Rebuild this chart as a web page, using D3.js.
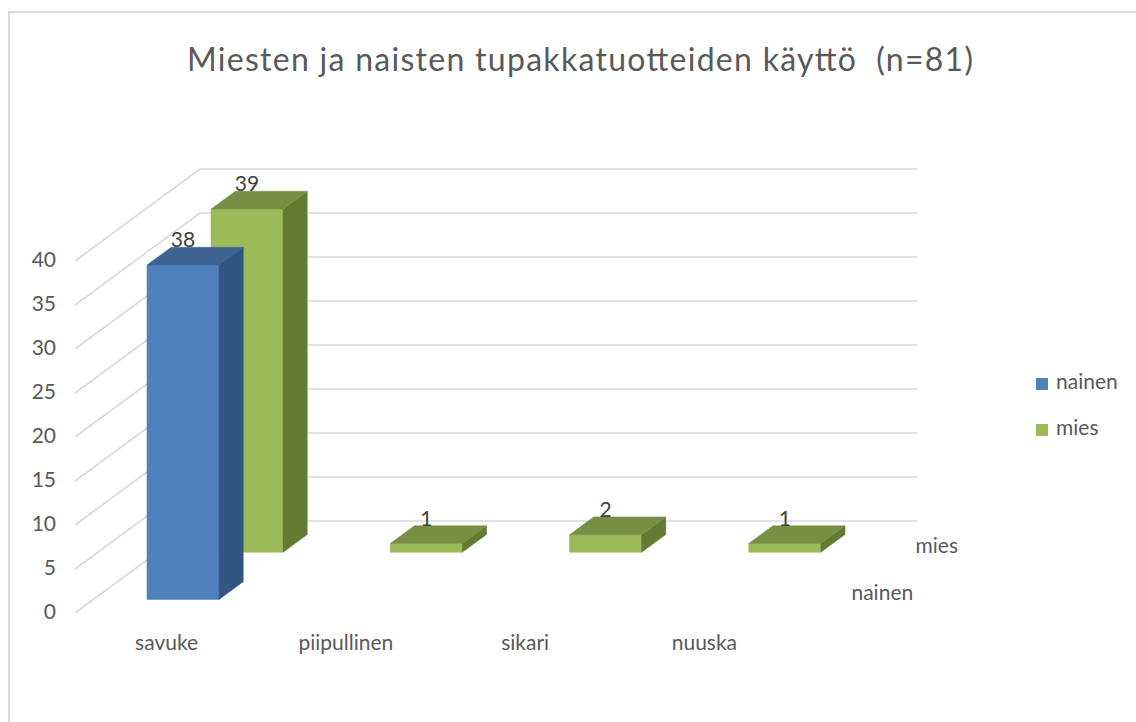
<!DOCTYPE html>
<html><head><meta charset="utf-8">
<script src="https://cdn.jsdelivr.net/npm/d3@7"></script>
<style>html,body{margin:0;padding:0;background:#fff;}svg{display:block;}text{white-space:pre;}</style>
</head><body>
<svg id="c" width="1136" height="722"></svg>
<script>
const categories = ["savuke", "piipullinen", "sikari", "nuuska"];
const seriesNames = ["nainen", "mies"];
const nainen = [38, null, null, null];
const mies = [39, 1, 2, 1];
const yTicks = [0, 5, 10, 15, 20, 25, 30, 35, 40];
const title = "Miesten ja naisten tupakkatuotteiden käyttö  (n=81)";

const colors = {
  nainen: {front: "#4F81BD", top: "#3C6391", side: "#325581"},
  mies:   {front: "#9BBB59", top: "#778F42", side: "#637A33"}
};
const font = "Lato, 'Open Sans', sans-serif";
const txt = "#595959";
const fs = 21;

const svg = d3.select("#c");
svg.append("rect").attr("x", 9).attr("y", 12).attr("width", 1140).attr("height", 720)
  .attr("fill", "#fff").attr("stroke", "#d9d9d9").attr("stroke-width", 2);

// 3D oblique geometry
const depthTotal = 155;
const kx = 125 / 155, ky = 92 / 155;
const x = d3.scaleBand().domain(categories).range([75, 792]).paddingInner(0.598).paddingOuter(0.299);
const y = d3.scaleLinear().domain([0, 40]).range([613, 261]);
const z = d3.scaleBand().domain(seriesNames).range([0, depthTotal]).paddingInner(0.622).paddingOuter(0.287);
const P = (px, v, d) => [px + d * kx, y(v) - d * ky];

const g = svg.append("g");
yTicks.forEach(t => {
  const a = P(75, t, 0), b = P(75, t, depthTotal);
  g.append("line").attr("x1", a[0]).attr("y1", a[1]).attr("x2", b[0]).attr("y2", b[1])
    .attr("stroke", "#d9d9d9").attr("stroke-width", 1.7);
  const c = P(792, t, depthTotal);
  g.append("line").attr("x1", b[0]).attr("y1", b[1]).attr("x2", c[0]).attr("y2", c[1])
    .attr("stroke", "#d9d9d9").attr("stroke-width", 1.7);
  g.append("text").attr("x", 56).attr("y", y(t) + 1).attr("text-anchor", "end")
    .attr("dominant-baseline", "middle").attr("font-family", font).attr("font-size", fs)
    .attr("fill", txt).text(t);
});

const data = {nainen, mies};
["mies", "nainen"].forEach(s => {
  const col = colors[s];
  data[s].forEach((v, i) => {
    if (v == null) return;
    const x0 = x(categories[i]), x1 = x0 + x.bandwidth();
    const d0 = z(s), d1 = d0 + z.bandwidth();
    const poly = pts => pts.map(p => p.join(",")).join(" ");
    g.append("polygon").attr("points", poly([P(x0,0,d0), P(x1,0,d0), P(x1,v,d0), P(x0,v,d0)]))
      .attr("fill", col.front).attr("stroke", col.front).attr("stroke-width", 0.5);
    g.append("polygon").attr("points", poly([P(x1,0,d0), P(x1,0,d1), P(x1,v,d1), P(x1,v,d0)]))
      .attr("fill", col.side).attr("stroke", col.side).attr("stroke-width", 0.5);
    g.append("polygon").attr("points", poly([P(x0,v,d0), P(x1,v,d0), P(x1,v,d1), P(x0,v,d1)]))
      .attr("fill", col.top).attr("stroke", col.top).attr("stroke-width", 0.5);
    const fx = P(x0 + x.bandwidth() / 2, v, d0)[0];
    const ly = P(x0, v, d1)[1];
    g.append("text").attr("x", fx).attr("y", ly)
      .attr("text-anchor", "middle").attr("font-family", font).attr("font-size", fs)
      .attr("fill", "#404040").text(v);
  });
});

categories.forEach(c => {
  g.append("text").attr("x", x(c) + x.bandwidth() / 2 + 2).attr("y", 645)
    .attr("text-anchor", "middle").attr("dominant-baseline", "middle")
    .attr("font-family", font).attr("font-size", fs).attr("fill", txt).text(c);
});

seriesNames.forEach(s => {
  const p = P(792, 0, z(s) + z.bandwidth() / 2);
  g.append("text").attr("x", p[0] + 29).attr("y", p[1] + 4)
    .attr("dominant-baseline", "middle").attr("font-family", font).attr("font-size", fs)
    .attr("fill", txt).text(s);
});

const legY = d3.scaleOrdinal().domain(seriesNames).range([384, 430]);
seriesNames.forEach(s => {
  g.append("rect").attr("x", 1036).attr("y", legY(s) - 6).attr("width", 12).attr("height", 12)
    .attr("fill", colors[s].front);
  g.append("text").attr("x", 1056).attr("y", legY(s)).attr("dominant-baseline", "middle")
    .attr("font-family", font).attr("font-size", fs).attr("fill", txt).text(s);
});

svg.append("text").attr("x", 580).attr("y", 63).attr("text-anchor", "middle")
  .attr("dominant-baseline", "middle").attr("font-family", font).attr("font-size", 32)
  .attr("textLength", 786).attr("lengthAdjust", "spacing")
  .attr("fill", txt).text(title);
</script>
</body></html>
